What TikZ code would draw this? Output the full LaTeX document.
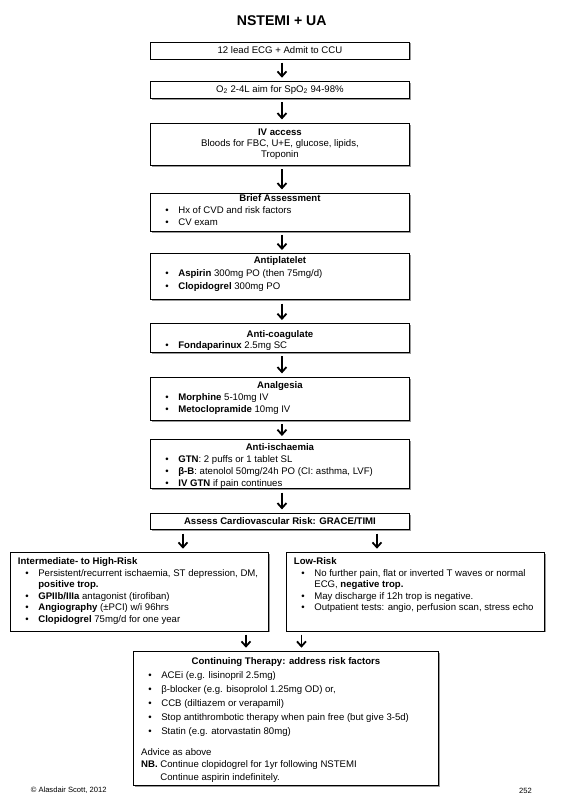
\documentclass[tikz,border=0pt]{standalone}
\usepackage{fontspec}
\setmainfont{Liberation Sans}
\usetikzlibrary{arrows.meta,shadows}

\newcommand\boxtext[5]{\parbox[t][#2][t]{#1}{\fontsize{9.6}{11.7}\selectfont\vspace*{#3}\baselineskip=#4\relax #5}}
\newcommand\bhead[1]{{\centering\textbf{#1}\par}}
\newcommand\shead[1]{\par\noindent\hspace*{7.5pt}\textbf{#1}\par}
\newcommand\bitem[1]{\par\noindent\hangindent=27.9pt\hangafter=1\hspace*{15pt}\makebox[12.9pt][l]{\textbullet}#1\par}

\tikzset{
  box/.style={draw=black, line width=0.9pt, fill=white, inner sep=0pt, anchor=north west,
    drop shadow={shadow xshift=1.4pt, shadow yshift=-1.4pt, fill=black!40, opacity=1}},
  flow/.style={line width=1.8pt, -{Straight Barb[length=5pt,width=9pt]}, shorten <=3.3pt, shorten >=3.3pt},
  every node/.style={font=\fontsize{9.6}{11.7}\selectfont},
}

\begin{document}
\begin{tikzpicture}[x=1pt,y=1pt]
\useasboundingbox (0,0) rectangle (565,-803);

\node[font=\bfseries\fontsize{14.1}{16}\selectfont] (title) at (281.7,-20.7) {NSTEMI + UA};

\node[box, minimum width=259pt, minimum height=17pt] (b1) at (150,-41.5) {12 lead ECG + Admit to CCU};
\node[box, minimum width=259pt, minimum height=17pt] (b2) at (150,-81) {O\textsubscript{2} 2-4L aim for SpO\textsubscript{2} 94-98\%};
\node[box] (b3) at (150,-122.7) {\boxtext{259pt}{42.3pt}{5.45pt}{11.15pt}{{\centering\textbf{IV access}\\Bloods for FBC, U+E, glucose, lipids,\\Troponin\par}}};
\node[box] (b4) at (150,-192.7) {\boxtext{259pt}{38pt}{1.6pt}{11.65pt}{\bhead{Brief Assessment}\bitem{Hx of CVD and risk factors}\bitem{CV exam}}};
\node[box] (b5) at (150,-253.3) {\boxtext{259pt}{46pt}{3.15pt}{13pt}{\bhead{Antiplatelet}\bitem{\textbf{Aspirin} 300mg PO (then 75mg/d)}\bitem{\textbf{Clopidogrel} 300mg PO}}};
\node[box] (b6) at (150,-323.3) {\boxtext{259pt}{28.7pt}{6.45pt}{11pt}{\bhead{Anti-coagulate}\bitem{\textbf{Fondaparinux} 2.5mg SC}}};
\node[box] (b7) at (150,-376.7) {\boxtext{259pt}{43.3pt}{4.05pt}{12pt}{\bhead{Analgesia}\bitem{\textbf{Morphine} 5-10mg IV}\bitem{\textbf{Metoclopramide} 10mg IV}}};
\node[box] (b8) at (150,-439.3) {\boxtext{259pt}{49pt}{3.85pt}{11.87pt}{\bhead{Anti-ischaemia}\bitem{\textbf{GTN}: 2 puffs or 1 tablet SL}\bitem{\textbf{β-B}: atenolol 50mg/24h PO (CI: asthma, LVF)}\bitem{\textbf{IV GTN} if pain continues}}};
\node[box, minimum width=259pt, minimum height=16.6pt, font=\bfseries\fontsize{9.6}{11.7}\selectfont] (b9) at (150,-512.7) {Assess Cardiovascular Risk: GRACE/TIMI};

\node[box] (hi) at (10,-552) {\boxtext{258pt}{78.5pt}{5.15pt}{11.6pt}{\shead{Intermediate- to High-Risk}\bitem{Persistent/recurrent ischaemia, ST depression, DM,\newline\textbf{positive trop.}}\bitem{\textbf{GPIIb/IIIa} antagonist (tirofiban)}\bitem{\textbf{Angiography} (±PCI) w/i 96hrs}\bitem{\textbf{Clopidogrel} 75mg/d for one year}}};
\node[box] (lo) at (286,-552) {\boxtext{258pt}{78.5pt}{5.15pt}{11.6pt}{\shead{Low-Risk}\bitem{No further pain, flat or inverted T waves or normal\newline ECG, \textbf{negative trop.}}\bitem{May discharge if 12h trop is negative.}\bitem{Outpatient tests: angio, perfusion scan, stress echo}}};

\node[box] (ct) at (133,-651) {\boxtext{305pt}{134pt}{6.45pt}{14pt}{\bhead{Continuing Therapy: address risk factors}\bitem{ACEi (e.g. lisinopril 2.5mg)}\bitem{β-blocker (e.g. bisoprolol 1.25mg OD) or,}\bitem{CCB (diltiazem or verapamil)}\bitem{Stop antithrombotic therapy when pain free (but give 3-5d)}\bitem{Statin (e.g. atorvastatin 80mg)}\baselineskip=12.4pt\vspace{8.3pt}\noindent\hspace*{7.7pt}Advice as above\par\noindent\hspace*{7.7pt}\makebox[19.3pt][l]{\textbf{NB.}}Continue clopidogrel for 1yr following NSTEMI\par\noindent\hspace*{27pt}Continue aspirin indefinitely.\par}};

\node[anchor=west, inner sep=0pt, font=\fontsize{7.6}{9}\selectfont] (copy) at (30.6,-790.5) {© Alasdair Scott, 2012};
\node[anchor=west, inner sep=0pt, font=\fontsize{7.6}{9}\selectfont] (page) at (519,-790.5) {252};

\draw[flow] ([xshift=2pt]b1.south) -- ([xshift=2pt]b2.north);
\draw[flow] ([xshift=2pt]b2.south) -- ([xshift=2pt]b3.north);
\draw[flow] ([xshift=2pt]b3.south) -- ([xshift=2pt]b4.north);
\draw[flow] ([xshift=2pt]b4.south) -- ([xshift=2pt]b5.north);
\draw[flow] ([xshift=2pt]b5.south) -- ([xshift=2pt]b6.north);
\draw[flow] ([xshift=2pt]b6.south) -- ([xshift=2pt]b7.north);
\draw[flow] ([xshift=2pt]b7.south) -- ([xshift=2pt]b8.north);
\draw[flow] ([xshift=2pt]b8.south) -- ([xshift=2pt]b9.north);
\draw[flow] ([xshift=-97pt]b9.south) -- ([xshift=-97pt]b9.south |- hi.north);
\draw[flow] ([xshift=97pt]b9.south) -- ([xshift=97pt]b9.south |- lo.north);
\draw[flow] ([xshift=106.5pt]hi.south) -- ([xshift=106.5pt]hi.south |- ct.north);
\draw[flow] ([xshift=-114pt]lo.south) -- ([xshift=-114pt]lo.south |- ct.north);
\end{tikzpicture}
\end{document}
